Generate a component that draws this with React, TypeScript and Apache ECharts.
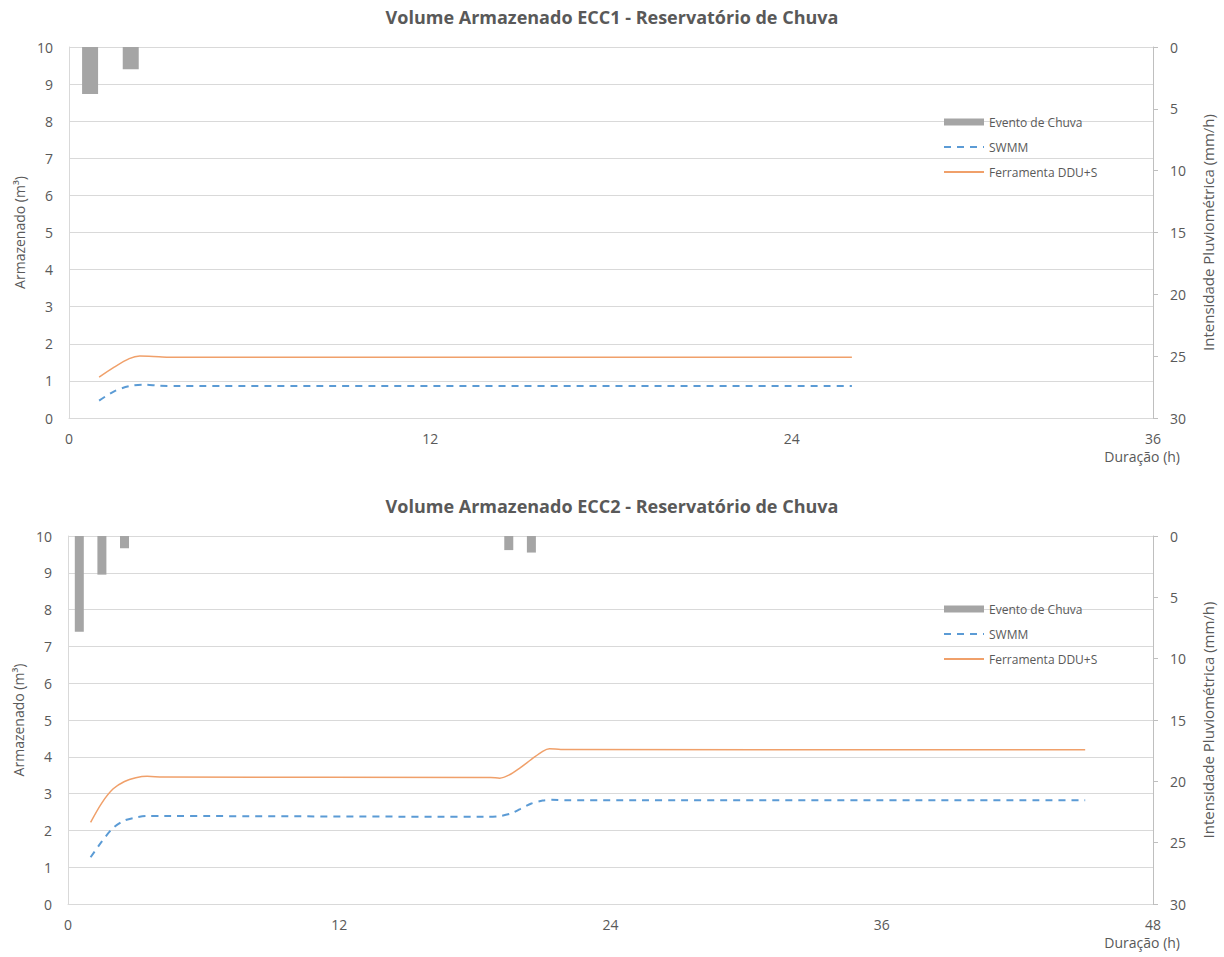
import React, { useEffect, useRef } from "react";
import * as echarts from "echarts";

// ---- Data ----
const titles = [
  "Volume Armazenado ECC1 - Reservatório de Chuva",
  "Volume Armazenado ECC2 - Reservatório de Chuva",
];
const seriesNames = ["Evento de Chuva", "SWMM", "Ferramenta DDU+S"];

// Chart 1 (ECC1): [hour, value]
const rain1: number[][] = [
  [0.7, 3.8],
  [2.05, 1.8],
];
const swmm1: number[][] = [
  [1, 0.47], [1.5, 0.72], [2, 0.86], [2.5, 0.9], [3, 0.87], [3.6, 0.86], [26, 0.86],
];
const ddu1: number[][] = [
  [1, 1.1], [1.5, 1.37], [2, 1.6], [2.35, 1.67], [2.8, 1.66], [3.3, 1.64], [26, 1.64],
];

// Chart 2 (ECC2)
const rain2: number[][] = [
  [0.5, 7.8],
  [1.5, 3.15],
  [2.5, 1.0],
  [19.5, 1.15],
  [20.5, 1.35],
];
const swmm2: number[][] = [
  [1, 1.27], [1.5, 1.7], [2, 2.07], [2.5, 2.27], [3, 2.35], [3.5, 2.39], [4.2, 2.39],
  [18.6, 2.37], [19.1, 2.39], [19.6, 2.46], [20, 2.58], [20.5, 2.73], [21, 2.81],
  [21.4, 2.83], [22, 2.82], [45, 2.82],
];
const ddu2: number[][] = [
  [1, 2.22], [1.5, 2.75], [2, 3.13], [2.5, 3.33], [3, 3.43], [3.5, 3.47], [4.2, 3.45],
  [18.7, 3.44], [19.1, 3.42], [19.5, 3.5], [20, 3.7], [20.5, 3.93], [21, 4.15],
  [21.3, 4.22], [21.8, 4.2], [45, 4.19],
];

const xMax = [36, 48];
const xInterval = 12;
const yLeftMax = 10;
const yRightMax = 30;

const TEXT = "#595959";
const GRID = "#d9d9d9";
const FONT = "Open Sans";

export default function App() {
  const ref = useRef<HTMLDivElement>(null);

  useEffect(() => {
    if (!ref.current) return;
    const chart = echarts.init(ref.current, null, { renderer: "svg" });

    const grids = [
      { left: 69, right: 71, top: 47, height: 371 },
      { left: 68, right: 71, top: 536, height: 368 },
    ];

    const xAxes = [0, 1].map((i) => ({
      type: "value",
      gridIndex: i,
      min: 0,
      max: xMax[i],
      interval: xInterval,
      name: "Duração (h)",
      nameLocation: "end",
      nameGap: 0,
      nameTextStyle: {
        color: TEXT,
        fontSize: 14,
        fontFamily: FONT,
        align: "right",
        verticalAlign: "top",
        padding: [31, -27, 0, 0],
      },
      axisLine: { show: true, lineStyle: { color: GRID, width: 1 } },
      axisTick: { show: false },
      splitLine: { show: false },
      axisLabel: { color: TEXT, fontSize: 14, fontFamily: FONT, margin: 13 },
    }));

    const yAxes: any[] = [];
    [0, 1].forEach((i) => {
      yAxes.push({
        type: "value",
        gridIndex: i,
        position: "left",
        min: 0,
        max: yLeftMax,
        interval: 1,
        name: "Armazenado (m³)",
        nameLocation: "middle",
        nameGap: 42,
        nameTextStyle: { color: TEXT, fontSize: 14, fontFamily: FONT },
        axisLine: { show: true, lineStyle: { color: GRID } },
        axisTick: { show: false },
        splitLine: { show: true, lineStyle: { color: GRID } },
        axisLabel: { color: TEXT, fontSize: 14, fontFamily: FONT, margin: 16 },
      });
      yAxes.push({
        type: "value",
        gridIndex: i,
        position: "right",
        inverse: true,
        min: 0,
        max: yRightMax,
        interval: 5,
        name: "Intensidade Pluviométrica (mm/h)",
        nameLocation: "middle",
        nameGap: 47,
        nameRotate: 90,
        nameTextStyle: { color: TEXT, fontSize: 15, fontFamily: FONT },
        axisLine: { show: true, lineStyle: { color: "#bfbfbf" } },
        axisTick: { show: true, length: 5, lineStyle: { color: "#bfbfbf" } },
        splitLine: { show: false },
        axisLabel: { color: TEXT, fontSize: 14, fontFamily: FONT, margin: 17 },
      });
    });

    const rains = [rain1, rain2];
    const swmms = [swmm1, swmm2];
    const ddus = [ddu1, ddu2];
    const barWidths = [16, 9];

    const series: any[] = [];
    [0, 1].forEach((i) => {
      series.push({
        name: seriesNames[0],
        type: "bar",
        xAxisIndex: i,
        yAxisIndex: i * 2 + 1,
        data: rains[i],
        barWidth: barWidths[i],
        itemStyle: { color: "#a5a5a5" },
      });
      series.push({
        name: seriesNames[1],
        type: "line",
        xAxisIndex: i,
        yAxisIndex: i * 2,
        data: swmms[i],
        smooth: 0.3,
        symbol: "none",
        lineStyle: { color: "#5b9bd5", width: 2, type: [7, 6] },
        itemStyle: { color: "#5b9bd5" },
      });
      series.push({
        name: seriesNames[2],
        type: "line",
        xAxisIndex: i,
        yAxisIndex: i * 2,
        data: ddus[i],
        smooth: 0.3,
        symbol: "none",
        lineStyle: { color: "#f0a06a", width: 1.5 },
        itemStyle: { color: "#f0a06a" },
      });
    });

    const legendTops = [111, 598];

    chart.setOption({
      animation: false,
      backgroundColor: "#ffffff",
      title: titles.map((t, i) => ({
        text: t,
        left: "center",
        top: i === 0 ? 3 : 492,
        textStyle: { color: TEXT, fontSize: 18, fontWeight: "bold", fontFamily: FONT },
      })),
      legend: legendTops.map((top) => ({
        orient: "vertical",
        left: 938,
        top,
        itemWidth: 40,
        itemHeight: 7,
        itemGap: 13,
        selectedMode: false,
        textStyle: { color: TEXT, fontSize: 12, fontFamily: FONT },
        data: [
          { name: seriesNames[0], icon: "rect" },
          { name: seriesNames[1], itemStyle: { opacity: 0 } },
          { name: seriesNames[2], itemStyle: { opacity: 0 } },
        ],
      })),
      grid: grids,
      xAxis: xAxes,
      yAxis: yAxes,
      series,
    });

    return () => chart.dispose();
  }, []);

  return (
    <div
      ref={ref}
      style={{ position: "absolute", left: 0, top: 0, width: 1224, height: 957 }}
    />
  );
}
